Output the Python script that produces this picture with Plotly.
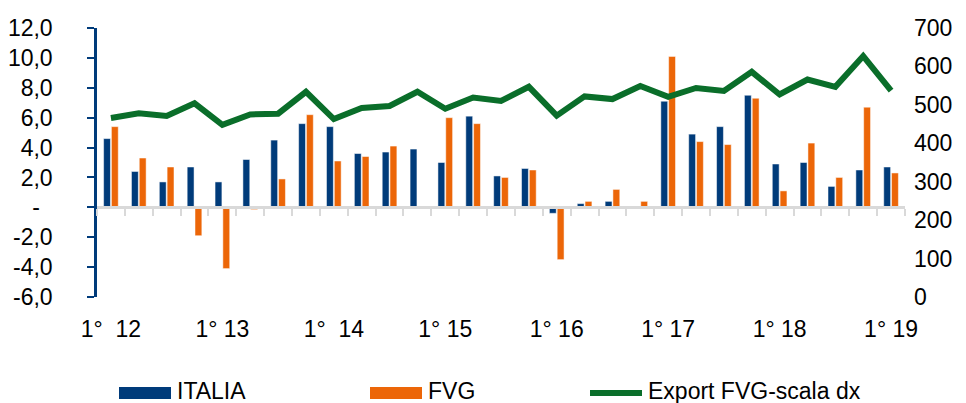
import plotly.graph_objects as go

# trimestri dal 1° 2012 al 1° 2019
quarters = [f"{q}° {y}" for y in range(12, 19) for q in (1, 2, 3, 4)] + ["1° 19"]
tick_labels = ["1°  12", "1° 13", "1°  14", "1° 15", "1° 16", "1° 17", "1° 18", "1° 19"]

italia = [4.6, 2.4, 1.7, 2.7, 1.7, 3.2, 4.5, 5.6, 5.4, 3.6, 3.7, 3.9, 3.0, 6.1, 2.1,
          2.6, -0.4, 0.25, 0.4, 0.0, 7.1, 4.9, 5.4, 7.5, 2.9, 3.0, 1.4, 2.5, 2.7]
fvg = [5.4, 3.3, 2.7, -1.9, -4.1, -0.15, 1.9, 6.2, 3.1, 3.4, 4.1, -0.1, 6.0, 5.6, 2.0,
       2.5, -3.5, 0.4, 1.2, 0.4, 10.1, 4.4, 4.2, 7.3, 1.1, 4.3, 2.0, 6.7, 2.3]
export_fvg = [466, 478, 471, 504, 448, 475, 477, 534, 463, 492, 497, 534, 490, 519, 510,
              547, 472, 522, 515, 549, 521, 544, 536, 586, 527, 566, 547, 627, 537]

left_ticks = [-6, -4, -2, 0, 2, 4, 6, 8, 10, 12]
left_text = ["-6,0", "-4,0", "-2,0", "-\u00a0\u00a0", "2,0", "4,0", "6,0", "8,0", "10,0", "12,0"]
right_ticks = [0, 100, 200, 300, 400, 500, 600, 700]

colors = {"italia": "#003b7a", "fvg": "#ec6608", "export": "#0a6e2a", "zero": "#d9d9d9"}

# la pagina ha 8px di margine nel body: la figura è un po' più piccola della finestra
OFF = 8
W, H = 966 - OFF, 403 - OFF
M = dict(l=97 - OFF, r=61, t=28 - OFF, b=106)
PW, PH = W - M["l"] - M["r"], H - M["t"] - M["b"]


def px(xp):
    return (xp - OFF - M["l"]) / PW


def py(yp):
    return (H - M["b"] - (yp - OFF)) / PH


x = list(range(len(quarters)))

fig = go.Figure()
fig.add_trace(go.Bar(x=x, y=italia, name="ITALIA", marker_color=colors["italia"],
                     customdata=quarters))
fig.add_trace(go.Bar(x=x, y=fvg, name="FVG", marker_color=colors["fvg"],
                     customdata=quarters))
fig.add_trace(go.Scatter(x=x, y=export_fvg, name="Export FVG-scala dx", yaxis="y2",
                         mode="lines", line=dict(color=colors["export"], width=6)))
# asse ausiliario solo per la linea dello zero con le tacche
fig.add_trace(go.Scatter(x=[], y=[], xaxis="x2", showlegend=False, hoverinfo="skip"))

font = dict(family="Liberation Sans, Arial, sans-serif", size=23, color="#000000")

# legenda disegnata a mano (campioni larghi come nell'originale)
legend_items = [
    ("ITALIA", colors["italia"], "rect", 119),
    ("FVG", colors["fvg"], "rect", 370),
    ("Export FVG-scala dx", colors["export"], "line", 590),
]
shapes, annotations = [], []
for label, col, kind, x0 in legend_items:
    if kind == "rect":
        shapes.append(dict(type="rect", xref="paper", yref="paper", x0=px(x0), x1=px(x0 + 52),
                           y0=py(399), y1=py(387), fillcolor=col, line_width=0))
    else:
        shapes.append(dict(type="line", xref="paper", yref="paper", x0=px(x0), x1=px(x0 + 52),
                           y0=py(393), y1=py(393), line=dict(color=col, width=6)))
    annotations.append(dict(text=label, xref="paper", yref="paper", x=px(x0 + 56), y=py(391),
                            xanchor="left", yanchor="middle", showarrow=False, font=font))

fig.update_layout(
    template="plotly_white",
    width=W,
    height=H,
    margin=M,
    font=font,
    barmode="group",
    bargap=0.44,
    bargroupgap=0.12,
    showlegend=False,
    shapes=shapes,
    annotations=annotations,
    xaxis=dict(range=[-0.5, len(quarters) - 0.5], tickmode="array",
               tickvals=[i for i in x if i % 4 == 0], ticktext=tick_labels,
               showgrid=False, zeroline=False, showline=False, ticks="",
               ticklabelstandoff=16, automargin=False),
    xaxis2=dict(overlaying="x", anchor="free", position=(0 - (-6)) / 18,
                range=[-0.5, len(quarters) - 0.5], tickmode="array",
                tickvals=[i - 0.5 for i in range(len(quarters) + 1)],
                showticklabels=False, ticks="outside", ticklen=7, tickwidth=2,
                tickcolor=colors["zero"], showline=True, linecolor=colors["zero"],
                linewidth=3, showgrid=False, zeroline=False, automargin=False),
    yaxis=dict(range=[-6, 12], tickmode="array", tickvals=left_ticks, ticktext=left_text,
               showgrid=False, zeroline=False, showline=True, linecolor=colors["italia"],
               linewidth=2.5, ticks="outside", ticklen=7, tickwidth=2,
               tickcolor=colors["italia"], ticklabelstandoff=30, automargin=False),
    yaxis2=dict(range=[0, 700], overlaying="y", side="right", tickmode="array",
                tickvals=right_ticks, showgrid=False, zeroline=False, showline=False,
                ticks="", ticklabelstandoff=8, automargin=False),
)

fig.write_html("out.html")
